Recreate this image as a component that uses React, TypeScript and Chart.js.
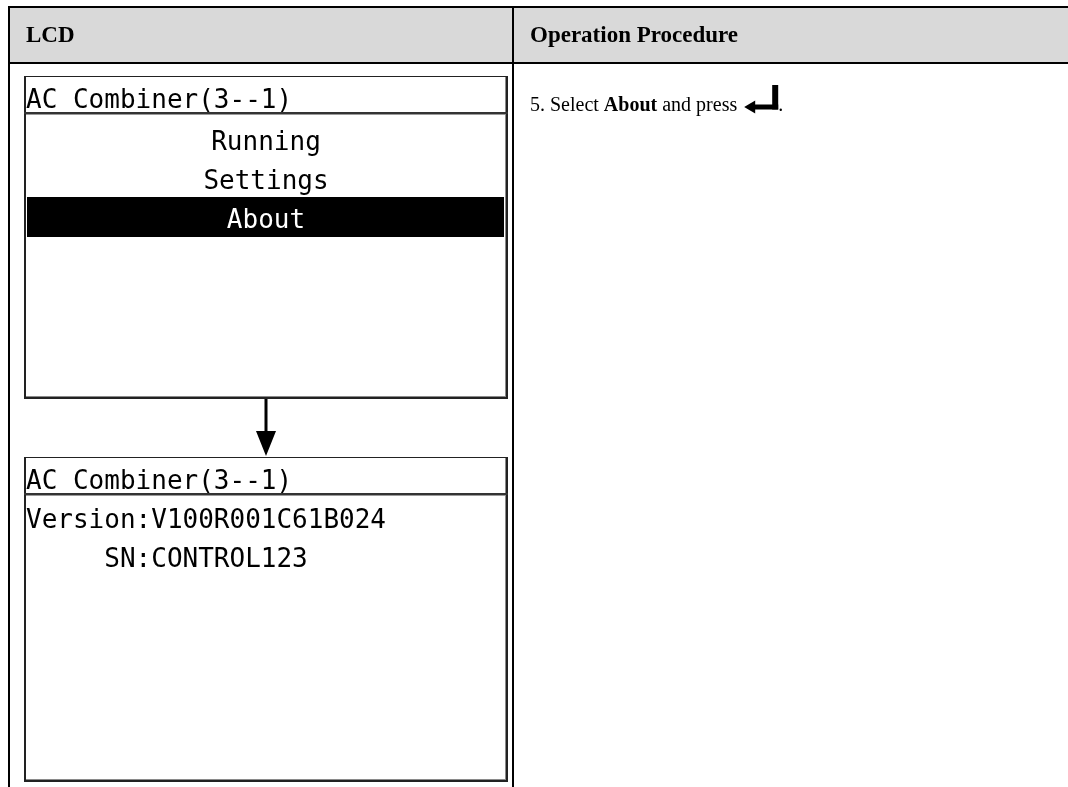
import React, { useEffect, useRef } from "react";
import { Chart, registerables } from "chart.js";

Chart.register(...registerables);

// ---- content ----
const headers: string[] = ["LCD", "Operation Procedure"];
const screenTitle = "AC Combiner(3--1)";
const menuItems: string[] = ["Running", "Settings", "About"];
const selectedItem = "About";
const aboutLines: string[] = ["Version:V100R001C61B024", "     SN:CONTROL123"];
const stepTexts: string[] = ["5. Select ", "About", " and press ", "."];
const stepBold: boolean[] = [false, true, false, false];

const W = 1068;
const H = 787;

const SERIF = '"Liberation Serif", "Times New Roman", serif';
const MONO = '"DejaVu Sans Mono", "Liberation Mono", monospace';

const tablePlugin = {
  id: "lcdTable",
  afterDraw(chart: any) {
    const ctx: CanvasRenderingContext2D = chart.ctx;
    const xs = chart.scales.x;
    const ys = chart.scales.y;
    const X = (v: number) => xs.getPixelForValue(v);
    const Y = (v: number) => ys.getPixelForValue(v);

    ctx.save();
    // background
    ctx.fillStyle = "#ffffff";
    ctx.fillRect(X(0), Y(0), X(W) - X(0), Y(H) - Y(0));

    // header band
    ctx.fillStyle = "#d9d9d9";
    ctx.fillRect(X(9), Y(7), X(W) - X(9), Y(63) - Y(7));

    // table borders
    ctx.fillStyle = "#000000";
    ctx.fillRect(X(8), Y(6), X(W) - X(8), 2); // top
    ctx.fillRect(X(8), Y(62), X(W) - X(8), 2); // header bottom
    ctx.fillRect(X(8), Y(6), 2, Y(H) - Y(6)); // left
    ctx.fillRect(X(512), Y(6), 2, Y(H) - Y(6)); // column divider

    // header text
    ctx.fillStyle = "#000000";
    ctx.font = `bold 23px ${SERIF}`;
    ctx.textBaseline = "alphabetic";
    ctx.textAlign = "left";
    ctx.fillText(headers[0], X(26), Y(42));
    ctx.fillText(headers[1], X(530), Y(42));

    // LCD screen box
    const drawBox = (top: number, bottom: number, divider: number) => {
      const l = 24, r = 508;
      ctx.fillStyle = "#ffffff";
      ctx.fillRect(X(l), Y(top), X(r) - X(l), Y(bottom) - Y(top));
      ctx.fillStyle = "#222222";
      ctx.fillRect(X(l), Y(top), X(r) - X(l), 1); // top
      ctx.fillRect(X(l), Y(top), 2, Y(bottom) - Y(top)); // left
      ctx.fillRect(X(r) - 2, Y(top), 2, Y(bottom) - Y(top)); // right
      ctx.fillRect(X(l), Y(bottom) - 2, X(r) - X(l), 2); // bottom
      ctx.fillStyle = "#8a8a8a";
      ctx.fillRect(X(r) - 3, Y(top) + 1, 1, Y(bottom) - Y(top) - 3);
      ctx.fillRect(X(l) + 2, Y(bottom) - 3, X(r) - X(l) - 5, 1);
      // title divider
      ctx.fillStyle = "#333333";
      ctx.fillRect(X(l), Y(divider), X(r) - X(l), 2);
      ctx.fillStyle = "#9a9a9a";
      ctx.fillRect(X(l) + 2, Y(divider) + 2, X(r) - X(l) - 5, 1);
      // title
      ctx.fillStyle = "#000000";
      ctx.font = `26px ${MONO}`;
      ctx.textAlign = "left";
      ctx.fillText(screenTitle, X(26), Y(divider - 4));
    };

    // box 1 : menu
    drawBox(76, 399, 112);
    const menuBase = [150, 189, 228];
    menuItems.forEach((item, i) => {
      const sel = item === selectedItem;
      if (sel) {
        ctx.fillStyle = "#000000";
        ctx.fillRect(X(27), Y(197), X(504) - X(27), Y(237) - Y(197));
      }
      ctx.fillStyle = sel ? "#ffffff" : "#000000";
      ctx.font = `26px ${MONO}`;
      ctx.textAlign = "center";
      ctx.fillText(item, X(266), Y(menuBase[i]));
    });

    // arrow between screens
    ctx.fillStyle = "#000000";
    ctx.fillRect(X(264.5), Y(399), 3, Y(433) - Y(399));
    ctx.beginPath();
    ctx.moveTo(X(256), Y(431));
    ctx.lineTo(X(276), Y(431));
    ctx.lineTo(X(266), Y(456));
    ctx.closePath();
    ctx.fill();

    // box 2 : about
    drawBox(457, 782, 493);
    ctx.fillStyle = "#000000";
    ctx.font = `26px ${MONO}`;
    ctx.textAlign = "left";
    const aboutBase = [528, 567];
    aboutLines.forEach((line, i) => {
      ctx.fillText(line, X(26), Y(aboutBase[i]));
    });

    // operation step text
    let cx = X(530);
    const base = Y(111);
    ctx.textAlign = "left";
    for (let i = 0; i < 3; i++) {
      ctx.font = `${stepBold[i] ? "bold " : ""}20px ${SERIF}`;
      ctx.fillStyle = "#000000";
      ctx.fillText(stepTexts[i], cx, base);
      cx += ctx.measureText(stepTexts[i]).width;
    }
    // enter key symbol
    const tip = cx + 2;
    ctx.fillStyle = "#000000";
    ctx.beginPath();
    ctx.moveTo(tip, base - 4);
    ctx.lineTo(tip + 11, base - 10.5);
    ctx.lineTo(tip + 11, base + 2.5);
    ctx.closePath();
    ctx.fill();
    ctx.fillRect(tip + 10, base - 6.5, 24, 5);
    ctx.fillRect(tip + 28, base - 26, 6, 24.5);
    ctx.font = `20px ${SERIF}`;
    ctx.fillText(stepTexts[3], tip + 34, base);

    ctx.restore();
  },
};

export default function App() {
  const ref = useRef<HTMLCanvasElement | null>(null);

  useEffect(() => {
    if (!ref.current) return;
    const chart = new Chart(ref.current, {
      type: "scatter",
      data: { datasets: [{ data: [], pointRadius: 0 }] },
      options: {
        animation: false,
        responsive: false,
        devicePixelRatio: 1,
        layout: { padding: 0 },
        events: [],
        plugins: {
          legend: { display: false },
          tooltip: { enabled: false },
          title: { display: false },
        },
        scales: {
          x: { type: "linear", min: 0, max: W, display: false },
          y: { type: "linear", min: 0, max: H, reverse: true, display: false },
        },
      },
      plugins: [tablePlugin],
    });
    return () => chart.destroy();
  }, []);

  return (
    <div style={{ position: "fixed", left: 0, top: 0, width: W, height: H, background: "#fff" }}>
      <canvas ref={ref} width={W} height={H} style={{ display: "block" }} />
    </div>
  );
}
